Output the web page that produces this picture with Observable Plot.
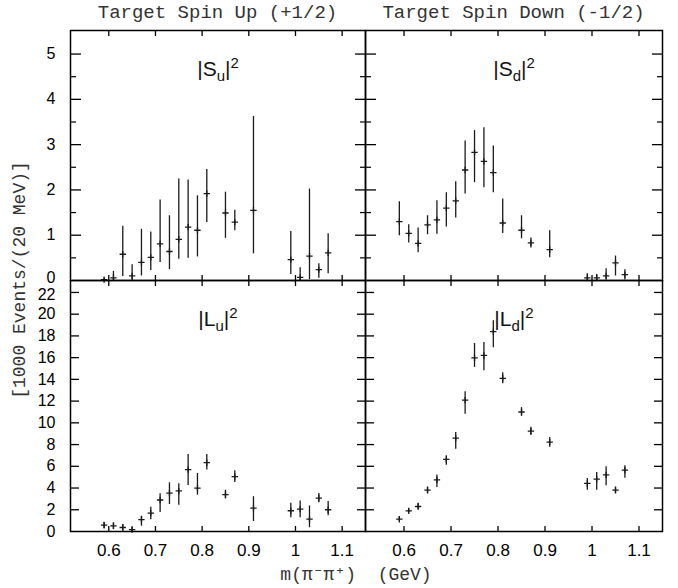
<!DOCTYPE html>
<html><head><meta charset="utf-8">
<script src="https://cdn.jsdelivr.net/npm/d3@7"></script>
<script src="https://cdn.jsdelivr.net/npm/@observablehq/plot@0.6"></script>
<style>
body{margin:0;background:#fff;}
#root{position:relative;width:678px;height:588px;background:#fff;overflow:hidden;}
.abs{position:absolute;}
.mono{font-family:"Liberation Mono","Courier New",monospace;color:#333;white-space:pre;line-height:1;}
</style></head><body>
<div id="root">
  <div class="abs mono" style="left:70px;width:295px;top:4px;text-align:center;font-size:19px;">Target Spin Up (+1/2)</div>
  <div class="abs mono" style="left:365px;width:297px;top:4px;text-align:center;font-size:19px;">Target Spin Down (-1/2)</div>
  <div class="abs mono" style="left:-130px;width:300px;top:271px;height:18px;text-align:center;font-size:18px;transform:rotate(-90deg);transform-origin:150px 9px;">[1000 Events/(20 MeV)]</div>
  <div class="abs mono" style="left:206px;width:300px;top:566px;text-align:center;font-size:18px;">m(π⁻π⁺)  (GeV)</div>
</div>
<script>
// bin centres (GeV)
const mass = [0.59,0.61,0.63,0.65,0.67,0.69,0.71,0.73,0.75,0.77,0.79,0.81,0.85,0.87,0.91,0.99,1.01,1.03,1.05,1.07];

// |S_u|^2
const suVal = [0.02,0.06,0.58,0.10,0.40,0.51,0.81,0.64,0.91,1.18,1.11,1.92,1.49,1.29,1.55,0.46,0.07,0.54,0.24,0.61];
const suLo  = [0.00,0.00,0.09,0.00,0.10,0.22,0.40,0.24,0.47,0.49,0.52,1.28,0.93,1.10,0.59,0.13,0.00,0.02,0.05,0.15];
const suHi  = [0.05,0.20,1.20,0.35,1.13,1.07,1.78,1.43,2.24,2.22,1.87,2.45,1.95,1.55,3.62,1.08,0.28,2.02,0.37,1.03];

// |S_d|^2
const sdVal = [1.30,1.04,0.82,1.23,1.34,1.60,1.76,2.44,2.83,2.63,2.38,1.27,1.11,0.83,0.68,0.06,0.06,0.10,0.39,0.13];
const sdLo  = [0.99,0.83,0.61,1.01,1.02,1.18,1.38,1.91,2.16,2.05,1.94,1.04,0.92,0.72,0.50,0.00,0.00,0.01,0.10,0.01];
const sdHi  = [1.74,1.23,1.16,1.43,1.76,1.94,2.18,3.08,3.31,3.37,2.97,1.80,1.43,0.94,1.10,0.15,0.13,0.26,0.54,0.24];

// |L_u|^2
const luVal = [0.58,0.52,0.37,0.18,1.10,1.69,2.90,3.54,3.73,5.70,4.00,6.33,3.40,5.05,2.15,1.91,2.06,1.14,3.08,2.00];
const luLo  = [0.28,0.18,0.03,0.00,0.49,1.07,1.75,2.48,2.42,4.23,3.34,5.67,3.00,4.50,0.92,1.26,1.26,0.35,2.65,1.45];
const luHi  = [0.86,0.80,0.64,0.40,1.41,2.24,3.47,4.48,4.39,7.09,5.34,7.09,3.80,5.60,3.20,2.60,2.80,2.35,3.50,2.77];

// |L_d|^2
const ldVal = [1.13,1.90,2.30,3.80,4.75,6.63,8.59,12.09,15.98,16.20,18.40,14.10,11.00,9.23,8.22,4.42,4.82,5.21,3.80,5.64];
const ldLo  = [0.92,1.70,2.00,3.50,4.05,6.10,7.58,10.80,15.10,14.80,16.90,13.60,10.60,8.85,7.75,3.80,3.80,4.20,3.50,4.90];
const ldHi  = [1.35,2.10,2.60,4.10,5.21,6.96,9.11,12.85,17.30,17.40,19.40,14.60,11.40,9.60,8.65,4.88,5.43,5.95,4.10,6.04];

// axis ticks
const xTicks = [0.6,0.7,0.8,0.9,1,1.1];
const xDomain = [0.518,1.15];
const sMajor = [1,2,3,4,5];
const sMinor = [0.5,1.5,2.5,3.5,4.5];
const sLabels = [1,2,3,4,5];
const sZero = [0];
const lMajor = [2,4,6,8,10,12,14,16,18,20,22];
const lLabels = [0,2,4,6,8,10,12,14,16,18,20];
const lTop = [22];

function panel(cfg) {
  const rows = mass.map((m, i) => ({m, v: cfg.v[i], lo: cfg.lo[i], hi: cfg.hi[i]}));
  const ink = "#1a1a1a";
  const marks = [
    Plot.ruleX(rows, {x: "m", y1: "lo", y2: "hi", stroke: ink, strokeWidth: 1.3}),
    Plot.dot(rows, {x: "m", y: "v", symbol: "plus", r: 2.2, stroke: ink, strokeWidth: 1.3}),
    Plot.text([cfg.name], {frameAnchor: "top", dy: cfg.labelDy, text: d => d, fontSize: 21, fill: "#111"}),
    Plot.axisY(cfg.yMajor, {anchor: "right", frameAnchor: "left", tickSize: cfg.majorLen, fill: "none", label: null, strokeWidth: 1.3}),
    Plot.axisY(cfg.yMajor, {anchor: "left", frameAnchor: "right", tickSize: cfg.majorLen, fill: "none", label: null, strokeWidth: 1.3}),
    Plot.axisX(xTicks, {anchor: "bottom", frameAnchor: "top", tickSize: 6, fill: "none", label: null, strokeWidth: 1.3}),
    Plot.axisX(xTicks, {anchor: "top", frameAnchor: "bottom", tickSize: 6, fill: "none", label: null, strokeWidth: 1.3}),
    Plot.frame({stroke: "#000", strokeWidth: 1.5})
  ];
  if (cfg.yMinor) {
    marks.push(Plot.axisY(cfg.yMinor, {anchor: "right", frameAnchor: "left", tickSize: 5, fill: "none", label: null, strokeWidth: 1.2}));
    marks.push(Plot.axisY(cfg.yMinor, {anchor: "left", frameAnchor: "right", tickSize: 5, fill: "none", label: null, strokeWidth: 1.2}));
  }
  if (cfg.yLabels) {
    marks.push(Plot.axisY(cfg.yLabels, {anchor: "left", tickSize: 0, tickPadding: 15, fontSize: 16, label: null, tickFormat: d => String(d)}));
    marks.push(Plot.axisY(cfg.yEdge, {anchor: "left", tickSize: 0, tickPadding: 15, fontSize: 16, dy: cfg.edgeDy, label: null, tickFormat: d => String(d)}));
  }
  if (cfg.xLabels) {
    marks.push(Plot.axisX(xTicks, {anchor: "bottom", tickSize: 0, tickPadding: 12, fontSize: 17, label: null, tickFormat: d => String(d)}));
  }
  const svg = Plot.plot({
    width: cfg.width, height: cfg.height,
    marginLeft: cfg.ml, marginRight: cfg.mr, marginTop: cfg.mt, marginBottom: cfg.mb,
    x: {domain: xDomain},
    y: {domain: cfg.yDomain},
    style: {fontFamily: "'Liberation Sans', Arial, sans-serif", fontSize: "16px", background: "transparent", overflow: "visible", color: "#000"},
    marks
  });
  // rich label: |X_sub|^2
  const t = svg.querySelector('g[aria-label="text"] text');
  if (t) {
    const NS = "http://www.w3.org/2000/svg";
    t.textContent = "";
    const add = (s, dy, fs) => {
      const ts = document.createElementNS(NS, "tspan");
      ts.textContent = s;
      if (dy) ts.setAttribute("dy", dy);
      if (fs) ts.setAttribute("font-size", fs);
      t.appendChild(ts);
    };
    add("|" + cfg.letter);
    add(cfg.sub, 5, 15);
    add("|", -5);
    add("2", -8, 15);
  }
  const wrap = document.createElement("div");
  wrap.className = "abs";
  wrap.style.left = cfg.left + "px";
  wrap.style.top = cfg.top + "px";
  wrap.appendChild(svg);
  document.getElementById("root").appendChild(wrap);
}

panel({name: "|Su|2", letter: "S", sub: "u", v: suVal, lo: suLo, hi: suHi, yDomain: [0, 5.52], yMajor: sMajor, yMinor: sMinor, majorLen: 10,
  yLabels: sLabels, yEdge: sZero, edgeDy: -3,
  labelDy: 31, width: 373, height: 288, ml: 70, mr: 8, mt: 30, mb: 8, left: 0, top: 0});
panel({name: "|Sd|2", letter: "S", sub: "d", v: sdVal, lo: sdLo, hi: sdHi, yDomain: [0, 5.52], yMajor: sMajor, yMinor: sMinor, majorLen: 10,
  labelDy: 31, width: 313, height: 288, ml: 8, mr: 8, mt: 30, mb: 8, left: 357, top: 0});
panel({name: "|Lu|2", letter: "L", sub: "u", v: luVal, lo: luLo, hi: luHi, yDomain: [0, 23.1], yMajor: lMajor, majorLen: 8, xLabels: true,
  yLabels: lLabels, yEdge: lTop, edgeDy: 2,
  labelDy: 31, width: 373, height: 309, ml: 70, mr: 8, mt: 8, mb: 50, left: 0, top: 272});
panel({name: "|Ld|2", letter: "L", sub: "d", v: ldVal, lo: ldLo, hi: ldHi, yDomain: [0, 23.1], yMajor: lMajor, majorLen: 8, xLabels: true,
  labelDy: 31, width: 313, height: 309, ml: 8, mr: 8, mt: 8, mb: 50, left: 357, top: 272});
</script>
</body></html>
